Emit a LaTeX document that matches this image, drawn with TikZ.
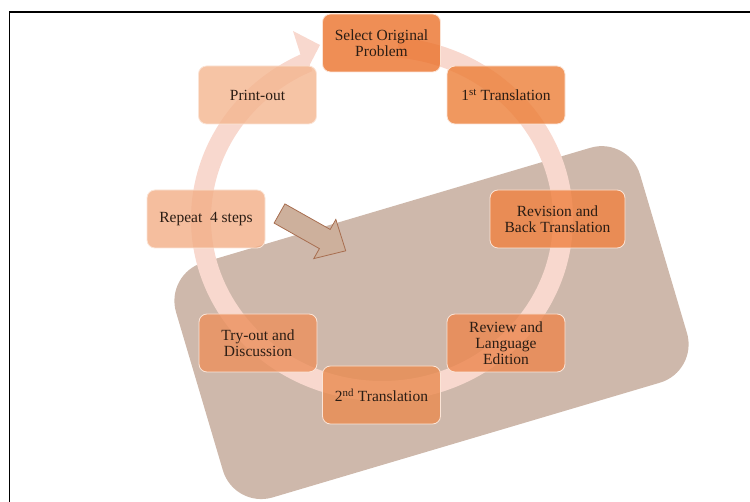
\documentclass[tikz,border=0pt]{standalone}
\usepackage{fontspec}
\setmainfont{Liberation Serif}
\usepackage{tikz}
\usetikzlibrary{calc}

\definecolor{bgbrown}{RGB}{206,184,171}
\definecolor{ringpink}{RGB}{248,216,206}
\definecolor{arrowfill}{RGB}{205,176,156}
\definecolor{arrowline}{RGB}{168,110,80}
\definecolor{boxedge}{RGB}{251,228,214}
\definecolor{textdark}{RGB}{43,29,20}
\definecolor{stepA}{RGB}{235,114,43}
\definecolor{stepB}{RGB}{236,126,55}
\definecolor{stepC}{RGB}{240,129,64}
\definecolor{stepD}{RGB}{236,134,78}
\definecolor{stepE}{RGB}{234,139,80}
\definecolor{stepF}{RGB}{236,144,93}
\definecolor{stepG}{RGB}{242,174,134}
\definecolor{stepH}{RGB}{244,181,143}

\begin{document}
\begin{tikzpicture}[x=1pt,y=1pt,
    stepbox/.style={rectangle, rounded corners=8pt, draw=boxedge, line width=0.8pt,
        fill opacity=0.8, text opacity=1, minimum width=118pt, minimum height=58pt,
        inner sep=2pt, align=center, text=textdark, font=\fontsize{15.5}{16}\selectfont}]
    \useasboundingbox (0,0) rectangle (750,501);
    \clip (0,0) rectangle (750,501);

    % draw frame
    \draw[line width=1.5pt] (9.5,-5) -- (9.5,489) -- (760,489);

    % draw tilted background
    \node (tilt) [rotate=16.5, fill=bgbrown, rounded corners=40pt, inner sep=0pt,
        minimum width=484pt, minimum height=245pt] at (431.5,178.4) {};

    % draw circular arrow
    \coordinate (c) at (382,282);
    \draw[ringpink, line width=20pt] ($(c)+(85:181 and 172)$)
        arc[start angle=85, end angle=-246, x radius=181, y radius=172];
    \fill[ringpink] (293,470) -- (320,456) -- (306,429) -- cycle;

    % draw steps
    \node[stepbox, fill=stepA] (select) at (381.5,458) {Select Original\\Problem};
    \node[stepbox, fill=stepB] (first) at (506,406) {1\textsuperscript{st} Translation};
    \node[stepbox, fill=stepC, minimum width=135pt] (revision) at (557.5,282) {Revision and\\Back Translation};
    \node[stepbox, fill=stepD] (review) at (506,158) {Review and\\Language\\Edition};
    \node[stepbox, fill=stepE] (second) at (381.5,106) {2\textsuperscript{nd} Translation};
    \node[stepbox, fill=stepF] (tryout) at (258,158) {Try-out and\\Discussion};
    \node[stepbox, fill=stepG] (repeat) at (206,282) {Repeat\ \ 4 steps};
    \node[stepbox, fill=stepH] (print) at (257.5,406) {Print-out};

    % draw block arrow
    \draw[arrowline, fill=arrowfill, line width=0.8pt, shift={(279.5,287.5)}, rotate=-29.4]
        (0,11) -- (52,11) -- (52,22.5) -- (76,0) -- (52,-22.5) -- (52,-11) -- (0,-11) -- cycle;
\end{tikzpicture}
\end{document}
